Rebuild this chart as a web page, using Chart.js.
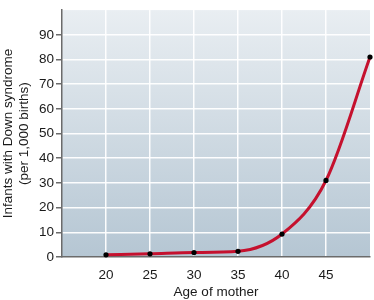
<!DOCTYPE html>
<html>
<head>
<meta charset="utf-8">
<script src="https://cdn.jsdelivr.net/npm/chart.js@4/dist/chart.umd.min.js"></script>
<style>
html,body{margin:0;padding:0;background:#fff;}
#wrap{width:374px;height:300px;}
</style>
</head>
<body>
<div id="wrap"><canvas id="c" width="374" height="300"></canvas></div>
<script>
const ages = [20, 25, 30, 35, 40, 45, 50];
const ratePer1000 = [0.9, 1.3, 1.8, 2.3, 9.3, 31, 81];
const xTicks = [20, 25, 30, 35, 40, 45];
const yTicks = [0, 10, 20, 30, 40, 50, 60, 70, 80, 90];
const xTitle = "Age of mother";
const yTitle = ["Infants with Down syndrome", "(per 1,000 births)"];

const bgPlugin = {
  id: 'bg',
  beforeDraw(chart) {
    const {ctx, chartArea: a} = chart;
    const g = ctx.createLinearGradient(0, a.top, 0, a.bottom);
    g.addColorStop(0, '#e9eef2');
    g.addColorStop(1, '#b5c6d3');
    ctx.save();
    ctx.fillStyle = g;
    ctx.fillRect(a.left, a.top, a.right - a.left, a.bottom - a.top);
    ctx.restore();
  }
};

const font = {family: '"Liberation Sans", Arial, sans-serif', size: 13.5};

new Chart(document.getElementById('c'), {
  type: 'line',
  data: {
    datasets: [{
      data: ages.map((a, i) => ({x: a, y: ratePer1000[i]})),
      borderColor: '#c5112e',
      borderWidth: 3,
      cubicInterpolationMode: 'monotone',
      pointRadius: 2.6,
      pointBackgroundColor: '#000',
      pointBorderWidth: 0,
      clip: false
    }]
  },
  options: {
    responsive: false,
    animation: false,
    layout: {padding: {top: 0, right: 3, left: 0, bottom: 0}},
    plugins: {legend: {display: false}, tooltip: {enabled: false}},
    scales: {
      x: {
        type: 'linear',
        min: 15, max: 50,
        afterBuildTicks(s) { s.ticks = xTicks.map(v => ({value: v})); },
        afterFit(s) { s.height = 43; },
        grid: {color: 'rgba(255,255,255,0.95)', lineWidth: 1.5, drawTicks: false},
        border: {color: '#6b6b6b', width: 1.5},
        ticks: {font, color: '#1a1a1a', padding: 10},
        title: {display: true, text: xTitle, font, color: '#1a1a1a', padding: {top: 2, bottom: 0}}
      },
      y: {
        type: 'linear',
        min: 0, max: 100,
        afterBuildTicks(s) { s.ticks = yTicks.map(v => ({value: v})); },
        afterFit(s) { s.width = 62; },
        grid: {color: (c) => c.tick && c.tick.value === 0 ? 'rgba(0,0,0,0)' : 'rgba(255,255,255,0.95)', lineWidth: 1.5, tickLength: 6, tickColor: '#6b6b6b', drawTicks: true},
        border: {color: '#6b6b6b', width: 1.5},
        ticks: {font, color: '#1a1a1a', padding: 2},
        title: {display: true, text: yTitle, font, color: '#1a1a1a', padding: {top: 0, bottom: 2}}
      }
    }
  },
  plugins: [bgPlugin]
});
</script>
</body>
</html>
